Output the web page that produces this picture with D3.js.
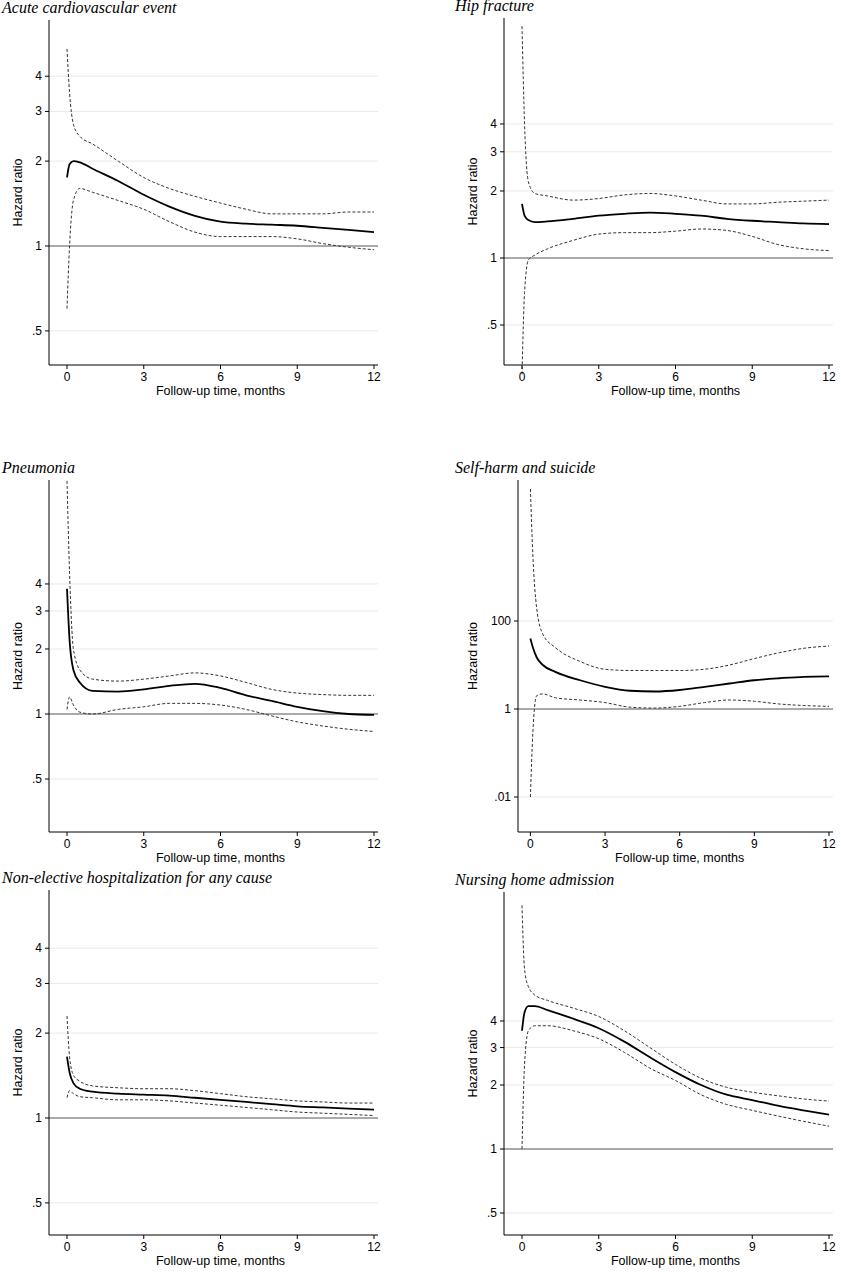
<!DOCTYPE html><html><head><meta charset="utf-8">
<script src="https://cdn.jsdelivr.net/npm/d3@7"></script>
<style>body{margin:0;background:#fff}</style></head><body>
<script>
const times=[0,0.1,0.25,0.5,1,2,3,4,5,6,7,8,9,10,11,12];
const titles=["Acute cardiovascular event","Hip fracture","Pneumonia","Self-harm and suicide","Non-elective hospitalization for any cause","Nursing home admission"];
const xTicks=[0,3,6,9,12];
const yTicksA=[0.5,1,2,3,4], yTicksB=[0.01,1,100];
const yTickLabels={0.5:".5",1:"1",2:"2",3:"3",4:"4",0.01:".01",100:"100"};
const hr=[
[1.75,1.95,2.0,1.98,1.88,1.7,1.52,1.38,1.28,1.22,1.2,1.19,1.18,1.16,1.14,1.12],
[1.75,1.55,1.48,1.45,1.46,1.5,1.55,1.58,1.6,1.58,1.55,1.5,1.47,1.45,1.43,1.42],
[3.8,2.2,1.6,1.4,1.28,1.27,1.3,1.35,1.38,1.32,1.22,1.15,1.08,1.03,1.0,0.99],
[40,25,15,10,7,4.5,3.2,2.6,2.5,2.7,3.2,3.8,4.5,5,5.4,5.5],
[1.65,1.45,1.33,1.27,1.24,1.22,1.21,1.2,1.18,1.16,1.14,1.12,1.1,1.09,1.08,1.07],
[3.6,4.4,4.7,4.7,4.5,4.1,3.7,3.2,2.7,2.3,2.0,1.8,1.7,1.6,1.52,1.45]];
const upper=[
[5.0,3.5,2.7,2.45,2.3,2.0,1.75,1.6,1.5,1.42,1.35,1.3,1.3,1.3,1.32,1.32],
[11,4,2.2,1.95,1.9,1.82,1.85,1.92,1.95,1.9,1.82,1.75,1.75,1.78,1.8,1.82],
[12,4.5,2.0,1.6,1.45,1.42,1.45,1.5,1.55,1.5,1.4,1.3,1.25,1.23,1.22,1.22],
[1e5,3000,200,50,25,12,8,7.5,7.5,7.5,8,10,14,19,24,27],
[2.3,1.65,1.42,1.35,1.3,1.28,1.27,1.27,1.25,1.22,1.19,1.17,1.15,1.14,1.13,1.13],
[14,7,5.8,5.3,5,4.6,4.2,3.6,3.0,2.5,2.15,1.95,1.85,1.78,1.72,1.68]];
const lower=[
[0.6,1.0,1.45,1.6,1.55,1.45,1.35,1.22,1.12,1.08,1.08,1.08,1.06,1.02,0.99,0.97],
[0.3,0.7,0.98,1.03,1.1,1.2,1.28,1.3,1.3,1.32,1.35,1.33,1.25,1.15,1.1,1.08],
[1.05,1.2,1.1,1.02,1.0,1.05,1.08,1.12,1.12,1.1,1.05,0.98,0.92,0.88,0.85,0.83],
[0.01,0.3,2,2.2,1.8,1.6,1.4,1.1,1.05,1.15,1.4,1.6,1.5,1.3,1.2,1.15],
[1.18,1.25,1.22,1.19,1.18,1.16,1.16,1.15,1.13,1.11,1.09,1.07,1.05,1.04,1.03,1.02],
[1.0,2.5,3.6,3.8,3.8,3.6,3.3,2.85,2.4,2.1,1.8,1.62,1.52,1.43,1.35,1.28]];
// layout: [y of 1, px per decade, top, bottom, axis shift]
const lay=[[246,282,20,365,0],[258,222.6,18,365,0],[714,216,480,832,0],[709,44,480,832,14],[1118,282,890,1235,0],[1149,212.6,892,1235,0]];
const svg=d3.select("body").append("svg").attr("width",841).attr("height",1280).style("font-family","Liberation Sans, Arial, sans-serif");
for(let i=0;i<6;i++){
  const col=i%2, L=lay[i];
  const ox=col?455:0;
  const x=d3.scaleLinear().domain([0,12]).range([67+ox+L[4]*0.6,374+ox]);
  const y=d3.scaleLog().domain([1,10]).range([L[0],L[0]-L[1]]);
  const g=svg.append("g");
  const ax=49+ox+L[4], right=378+ox;
  const yt=i==3?yTicksB:yTicksA;
  yt.forEach(t=>{
    g.append("line").attr("x1",ax).attr("x2",right).attr("y1",y(t)).attr("y2",y(t))
     .attr("stroke",t==1?"#555":"#e3e3e3").attr("stroke-width",t==1?1:0.8);
    g.append("line").attr("x1",ax-4).attr("x2",ax).attr("y1",y(t)).attr("y2",y(t)).attr("stroke","#000");
    g.append("text").attr("x",ax-7).attr("y",y(t)+4).attr("text-anchor","end").attr("font-size",12).text(yTickLabels[t]);
  });
  g.append("line").attr("x1",ax).attr("x2",ax).attr("y1",L[2]).attr("y2",L[3]).attr("stroke","#000");
  g.append("line").attr("x1",ax).attr("x2",right).attr("y1",L[3]).attr("y2",L[3]).attr("stroke","#000");
  xTicks.forEach(t=>{
    g.append("line").attr("x1",x(t)).attr("x2",x(t)).attr("y1",L[3]).attr("y2",L[3]+4).attr("stroke","#000");
    g.append("text").attr("x",x(t)).attr("y",L[3]+16).attr("text-anchor","middle").attr("font-size",12).text(t);
  });
  g.append("text").attr("x",(x(0)+x(12))/2).attr("y",L[3]+30).attr("text-anchor","middle").attr("font-size",12.5).text("Follow-up time, months");
  g.append("text").attr("transform",`translate(${49+ox-27},${(L[2]+L[3])/2}) rotate(-90)`).attr("text-anchor","middle").attr("font-size",12.5).text("Hazard ratio");
  g.append("text").attr("x",col?455:2).attr("y",L[2]-7).attr("font-family","Liberation Serif, Times New Roman, serif").attr("font-style","italic").attr("font-size",16).text(titles[i]);
  const line=arr=>d3.line().x((d,j)=>x(times[j])).y(d=>y(d)).curve(d3.curveMonotoneX)(arr);
  g.append("path").attr("d",line(upper[i])).attr("fill","none").attr("stroke","#333").attr("stroke-width",1).attr("stroke-dasharray","3,2");
  g.append("path").attr("d",line(lower[i])).attr("fill","none").attr("stroke","#333").attr("stroke-width",1).attr("stroke-dasharray","3,2");
  g.append("path").attr("d",line(hr[i])).attr("fill","none").attr("stroke","#000").attr("stroke-width",1.8);
}
</script></body></html>
